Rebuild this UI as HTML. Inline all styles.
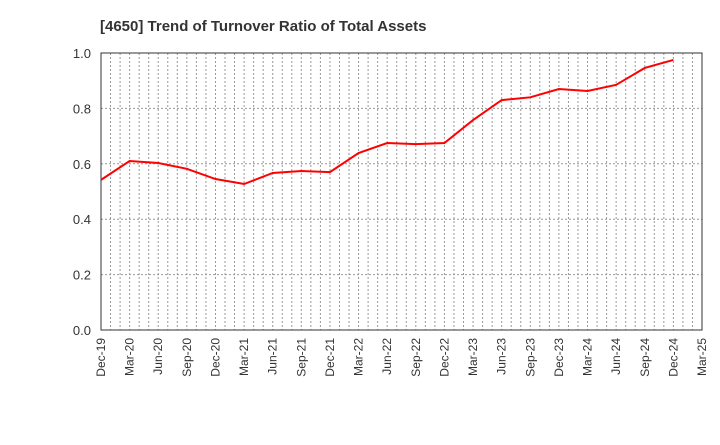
<!DOCTYPE html>
<html><head><meta charset="utf-8"><style>
body{margin:0;background:#fff;font-family:"Liberation Sans",sans-serif}
</style></head><body>
<svg id="chart" width="720" height="440" xmlns="http://www.w3.org/2000/svg">
<text x="100" y="31" font-size="15" font-weight="bold" fill="#333">[4650]  Trend of Turnover Ratio of Total Assets</text>
<g id="grid"></g><g id="axes"></g><g id="series"></g>
</svg>
<script>
const categories=["Dec-19","Mar-20","Jun-20","Sep-20","Dec-20","Mar-21","Jun-21","Sep-21","Dec-21","Mar-22","Jun-22","Sep-22","Dec-22","Mar-23","Jun-23","Sep-23","Dec-23","Mar-24","Jun-24","Sep-24","Dec-24","Mar-25"];
const values=[0.542,0.61,0.603,0.582,0.545,0.527,0.567,0.574,0.57,0.639,0.675,0.671,0.675,0.758,0.83,0.84,0.87,0.863,0.885,0.946,0.975];
const yTicks=[0,0.2,0.4,0.6,0.8,1.0];
const L=101,R=702,T=53,B=330,NS="http://www.w3.org/2000/svg";
const nQ=categories.length-1;
const x=i=>L+(R-L)*i/nQ, y=v=>B-(B-T)*v;
function mk(tag,attrs,parent,txt){const e=document.createElementNS(NS,tag);for(const k in attrs)e.setAttribute(k,attrs[k]);if(txt!=null)e.textContent=txt;document.getElementById(parent).appendChild(e);return e;}
for(let m=1;m<nQ*3;m++){const xx=L+(R-L)*m/(nQ*3);
 const g=mk('line',{x1:xx,x2:xx,y1:T,y2:B,stroke:'#999','stroke-dasharray':'2,2','stroke-width':1},'grid');
 
 }
yTicks.forEach(v=>{
 if(v>0&&v<1){const g=mk('line',{x1:L,x2:R,y1:y(v),y2:y(v),stroke:'#999','stroke-dasharray':'2,2'},'grid');
 
 }
 const t=mk('text',{x:L-10,y:y(v)+5,'text-anchor':'end','font-size':13,fill:'#333'},'axes',v.toFixed(1));
 
 
});
const fr=mk('rect',{x:L,y:T,width:R-L,height:B-T,fill:'none',stroke:'#333','stroke-width':1},'axes');


categories.forEach((c,i)=>{
 const t=mk('text',{transform:`translate(${x(i)+4},${B+8}) rotate(-90)`,'text-anchor':'end','font-size':12,fill:'#333'},'axes',c);
 
 
});
const p=mk('polyline',{points:values.map((v,i)=>x(i)+','+y(v)).join(' '),fill:'none',stroke:'#f00','stroke-width':2},'series');


</script>
</body></html>
